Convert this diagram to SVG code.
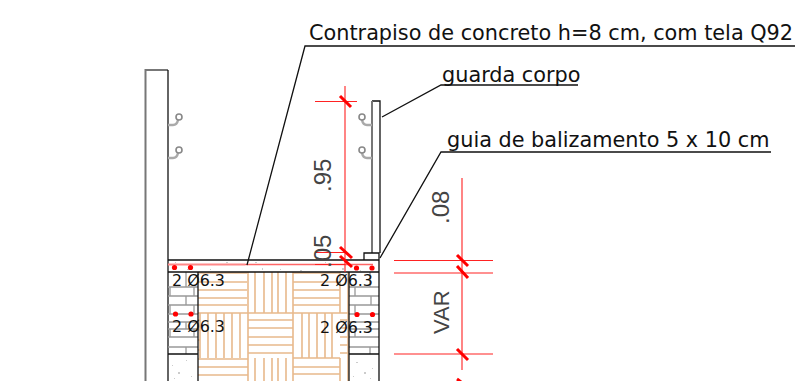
<svg xmlns="http://www.w3.org/2000/svg" width="795" height="381" viewBox="0 0 795 381">
<defs>
<style>
text{font-family:"DejaVu Sans",Verdana,sans-serif;fill:#111}
.lbl{font-size:20.800px}
.bar{font-size:15.900px}
.dim{font-size:24px;fill:#444;font-family:"Liberation Sans",Arial,sans-serif}
.var{font-size:22px}
.k{stroke:#111;stroke-width:1.3;fill:none}
.g{stroke:#777;stroke-width:2;fill:none}
.b{stroke:#999;stroke-width:1.300;fill:none}
.w{stroke:#e8b98c;stroke-width:1.600;fill:none}
.r{stroke:#f22;stroke-width:1.1;fill:none}
.t{stroke:#f00;stroke-width:3;fill:none}
.h{stroke:#aaa;stroke-width:2.400;fill:none}
.o{stroke:#888;stroke-width:1.600;fill:#fff}
.s{fill:#ccc}
</style>
<g id="hookL"><path class="h" d="M0 0H-5Q-9 0-10-5"/><circle class="o" cx="-10" cy="-8" r="3"/></g>
<g id="hookR"><path class="h" d="M0 0H5Q9 0 10-5"/><circle class="o" cx="11" cy="-8" r="3"/></g>
</defs>
<rect width="795" height="381" fill="#fff"/>
<g id="wall">
<path class="g" d="M145.500 381V70H168"/>
<path class="k" d="M168 70V381"/>
<use href="#hookR" x="168" y="125"/>
<use href="#hookR" x="168" y="158"/>
</g>
<g id="wood">
<path class="w" d="M198 273H247M198 282H247M198 290H247M198 298H247M198 305H247M198 313H349M293 273H340M293 282H340M293 290H340M293 298H340M293 305H340"/>
<path class="w" d="M248 272V313M255 272V313M264 272V313M272 272V313M278 272V313M286 272V313M293 272V313M340 272V313M348 272V381"/>
<path class="w" d="M200 313V358M208 313V358M216 313V358M224 313V358M232 313V358M240 313V358M248 313V381M302 313V358M309 313V358M317 313V358M325 313V358M332 313V358M293 313V381"/>
<path class="w" d="M248 320H293M248 328H293M248 337H293M248 345H293M248 353H293M198 320H200M198 330H200M198 340H200M198 350H200M340 320H348M340 328H348M340 337H348M340 345H348M340 353H348"/>
<path class="w" d="M198 359H248M198 367H248M198 375H248M293 358H340M293 367H340M293 374H340M255 358V381M264 358V381M272 358V381M278 358V381M286 358V381M340 358V381"/>
</g>
<g id="blocks">
<path class="b" d="M168 287H198M168 296H198M168 305H198M168 314H198M168 322H198M168 329H198M168 337H198M168 347H198"/>
<path class="b" d="M186 272V287M170 287V296M194 287V296M186 296V305M170 305V314M194 305V314M186 322V329M170 329V337M194 329V337M186 347V354"/>
<path class="b" d="M349 287H379M349 296H379M349 305H379M349 314H379M349 322H379M349 329H379M349 337H379M349 347H379"/>
<path class="b" d="M370 272V287M355 287V296M371 296V305M355 305V314M370 322V329M355 329V337M370 347V354"/>
<path class="k" d="M198 272V381M168 354H198M349 272V381M349 354H379M379 260V381"/>
</g>
<g id="slab">
<path class="k" d="M168 260H379M168 272H349M349 272H379"/>
<path d="M168 264.500H245" stroke="#f88" stroke-width="2"/>
<path d="M245 264.500H373" stroke="#f66" stroke-width="1.500"/>
<path class="s" d="M175 262h1v1h-1zM210 269h1v1h-1zM255 262h2v1h-2zM262 268h1v2h-1zM300 270h2v1h-2zM325 262h1v1h-1zM187 269h2v1h-2zM226 262h2v1h-2zM280 269h1v1h-1zM342 268h2v2h-2zM360 270h1v1h-1z"/>
<path class="s" d="M172 365h1v1h-1zM178 372h2v2h-2zM186 360h1v1h-1zM191 376h1v1h-1zM174 378h1v1h-1zM356 362h2v1h-2zM364 372h2v2h-2zM372 368h1v1h-1zM353 376h1v1h-1zM370 378h1v1h-1z"/>
</g>
<g id="guarda-corpo">
<path class="k" d="M372 101H380V253"/>
<path class="g" d="M372 101V253"/>
<path class="k" d="M364 260V253H379V260"/>
<use href="#hookL" x="372" y="125"/>
<use href="#hookL" x="372" y="158"/>
</g>
<g id="bars" fill="#f00">
<circle cx="174.500" cy="267.500" r="2.600"/><circle cx="190.500" cy="267.500" r="2.600"/>
<circle cx="175.500" cy="314" r="2.600"/><circle cx="191" cy="314" r="2.600"/>
<circle cx="356.500" cy="268" r="2.600"/><circle cx="372" cy="268" r="2.600"/>
<circle cx="357" cy="314.500" r="2.600"/><circle cx="372.500" cy="314.500" r="2.600"/>
</g>
<g id="connectors">
<path class="k" d="M795 46H305L247 265"/>
<path class="k" d="M578 85H441L382 117"/>
<path class="k" d="M771 152H441L380 258"/>
</g>
<g id="dimensions">
<path class="r" d="M345 86V272M315 101.500H357M315 252.500H345M315 264.500H345M462 178V370M394 260.500H493M394 273H493M394 354H493"/>
<path class="t" d="M340 96L351 107M340 247L352 258M340 256L352 267M457 255L468 266M457 266L468 278M457 349L468 360M457 379L461 382"/>
</g>
<g id="labels">
<text class="lbl" x="309" y="40">Contrapiso de concreto h=8 cm, com tela Q92</text>
<text class="lbl" x="442" y="82">guarda corpo</text>
<text class="lbl" x="447" y="147">guia de balizamento 5 x 10 cm</text>
<text class="bar" x="172" y="286">2 Ø6.3</text>
<text class="bar" x="172" y="332">2 Ø6.3</text>
<text class="bar" x="320" y="286">2 Ø6.3</text>
<text class="bar" x="320" y="333">2 Ø6.3</text>
<text class="dim" transform="translate(331 192) rotate(-90)">.95</text>
<text class="dim" transform="translate(331 268) rotate(-90)">.05</text>
<text class="dim" transform="translate(449 224) rotate(-90)">.08</text>
<text class="dim var" transform="translate(449 334) rotate(-90)">VAR</text>
</g>
</svg>
